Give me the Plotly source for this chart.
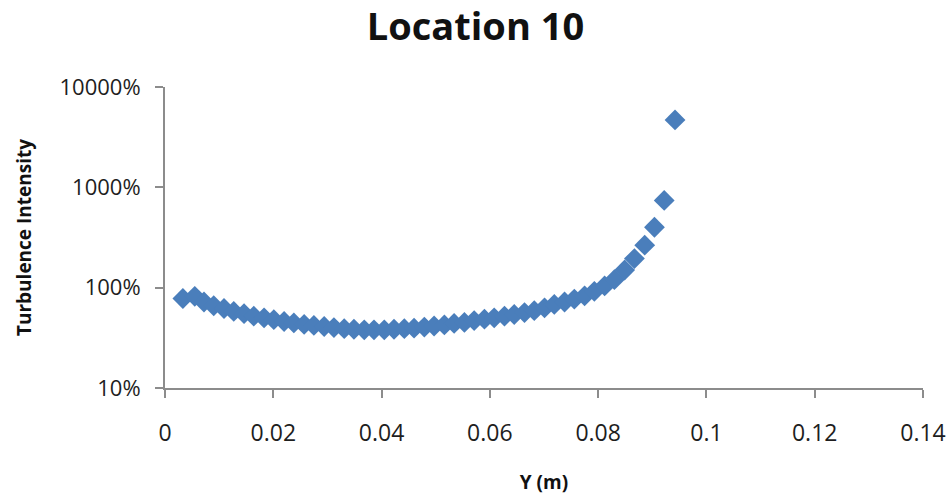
import plotly.graph_objects as go

# Data
y_m = [0.0033, 0.0055, 0.0072, 0.0090, 0.0109, 0.0127, 0.0146, 0.0164, 0.0183, 0.0201,
       0.0220, 0.0238, 0.0257, 0.0275, 0.0294, 0.0312, 0.0331, 0.0349, 0.0368, 0.0386,
       0.0405, 0.0423, 0.0442, 0.0460, 0.0479, 0.0497, 0.0516, 0.0534, 0.0553, 0.0571,
       0.0590, 0.0608, 0.0627, 0.0645, 0.0664, 0.0682, 0.0701, 0.0719, 0.0738, 0.0756,
       0.0775, 0.0793, 0.0812, 0.0830, 0.0849, 0.0867, 0.0886, 0.0904, 0.0922, 0.0942]
turb_pct = [78, 82, 72, 66, 62, 58, 55, 52, 50, 48,
            46, 44.5, 43, 42, 41, 40, 39, 38.5, 38, 38,
            38, 38.5, 39, 39.5, 40.5, 41.5, 42.5, 44, 45, 47,
            48.5, 50, 52, 54, 56.5, 59, 63, 68, 72, 77,
            83, 92, 104, 120, 150, 195, 265, 400, 740, 4700]

x_ticks = [0, 0.02, 0.04, 0.06, 0.08, 0.1, 0.12, 0.14]
x_tick_text = ["0", "0.02", "0.04", "0.06", "0.08", "0.1", "0.12", "0.14"]
y_ticks = [10, 100, 1000, 10000]
y_tick_text = ["10%", "100%", "1000%", "10000%"]

font_family = "'Open Sans', Lato, sans-serif"

fig = go.Figure(go.Scatter(
    x=y_m, y=turb_pct, mode="markers",
    marker=dict(symbol="diamond", size=16, color="#4A7EBB", line=dict(width=0)),
    showlegend=False, cliponaxis=False,
))

fig.update_layout(
    width=951, height=500,
    margin=dict(l=165, r=28, t=87, b=112),
    paper_bgcolor="white", plot_bgcolor="white",
    font=dict(family=font_family, color="#222222"),
    title=dict(text="<b>Location 10</b>", x=0.5, xanchor="center", y=0.946, yanchor="middle",
               font=dict(size=38, color="#111111", family=font_family)),
)

fig.update_xaxes(
    range=[0, 0.14], tickvals=x_ticks, ticktext=x_tick_text,
    showgrid=False, zeroline=False, automargin=False,
    showline=True, linecolor="#8C8C8C", linewidth=2,
    ticks="outside", ticklen=8, tickwidth=2, tickcolor="#8C8C8C",
    ticklabelstandoff=15,
    tickfont=dict(size=23, color="#1E1E1E"),
    title=dict(text="<b>Y (m)</b>", font=dict(size=19, color="#111111"), standoff=29),
)

fig.update_yaxes(
    type="log", range=[1, 4], tickvals=y_ticks, ticktext=y_tick_text,
    showgrid=False, zeroline=False, automargin=False,
    showline=True, linecolor="#8C8C8C", linewidth=2,
    ticks="outside", ticklen=8, tickwidth=2, tickcolor="#8C8C8C",
    ticklabelstandoff=10,
    tickfont=dict(size=22, color="#1E1E1E"),
    title=dict(text="<b>Turbulence Intensity</b>", font=dict(size=19, color="#111111"), standoff=23),
)

fig.write_html("out.html", config={"displayModeBar": False},
               post_script="document.body.style.margin='0';")
